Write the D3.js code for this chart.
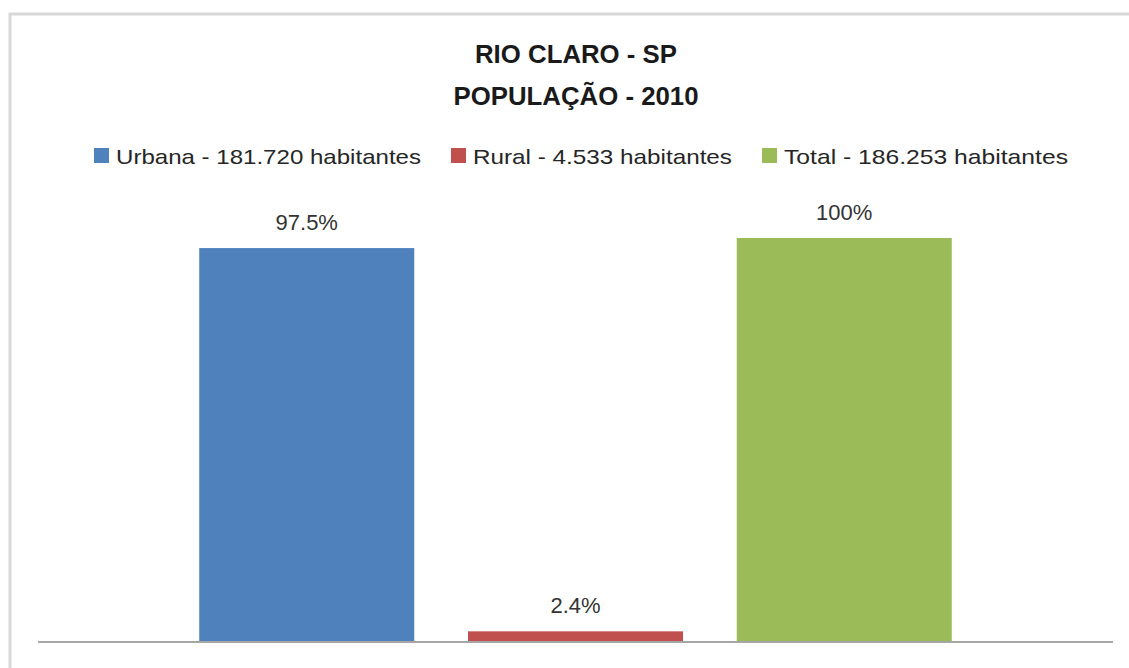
<!DOCTYPE html>
<html>
<head>
<meta charset="utf-8">
<script src="https://cdn.jsdelivr.net/npm/d3@7"></script>
<style>
  body { margin: 0; background: #fff; }
  text { font-family: "Liberation Sans Narrow", "Liberation Sans", "Open Sans", sans-serif; }
</style>
</head>
<body>
<script>
var svgW = 1129;
var svgH = 668;

// dados do grafico
var categories = ["Urbana", "Rural", "Total"];
var habitantes = ["181.720", "4.533", "186.253"];
var percent = [97.5, 2.4, 100];
var percentLabels = ["97.5%", "2.4%", "100%"];
var colors = ["#4f81bd", "#c0504d", "#9bbb59"];
var titleLines = ["RIO CLARO - SP", "POPULAÇÃO - 2010"];

var svg = d3.select("body")
  .append("svg")
  .attr("width", svgW)
  .attr("height", svgH);

// moldura
svg.append("path")
  .attr("d", "M10,668 V14 H1129")
  .attr("fill", "none")
  .attr("stroke", "#d9d9d9")
  .attr("stroke-width", 3);

var x = d3.scaleBand()
  .domain(categories)
  .range([38, 1113])
  .paddingInner(0.2)
  .paddingOuter(0.6);

var y = d3.scaleLinear()
  .domain([0, 100])
  .range([641, 238]);

// titulo
svg.selectAll("text.title")
  .data(titleLines)
  .enter()
  .append("text")
  .attr("class", "title")
  .text(function(d) { return d; })
  .attr("x", 576)
  .attr("y", function(d, i) { return 63 + i * 42; })
  .attr("text-anchor", "middle")
  .attr("font-size", "25px")
  .attr("font-weight", "bold")
  .attr("fill", "#1a1a1a")
  .attr("textLength", function(d, i) { return i == 0 ? 202 : 245; })
  .attr("lengthAdjust", "spacingAndGlyphs");

// legenda
var legendW = [305, 259, 284];
var sq = 15, gapText = 7, gapItem = 30;
var total = d3.sum(legendW) + categories.length * (sq + gapText) + (categories.length - 1) * gapItem;
var lx = 581 - total / 2;
var legendX = [];
legendW.forEach(function(w) {
  legendX.push(lx);
  lx += sq + gapText + w + gapItem;
});

var legend = svg.selectAll("g.legend")
  .data(categories)
  .enter()
  .append("g")
  .attr("class", "legend")
  .attr("transform", function(d, i) { return "translate(" + legendX[i] + ",0)"; });

legend.append("rect")
  .attr("x", 0)
  .attr("y", 148)
  .attr("width", sq)
  .attr("height", sq)
  .attr("fill", function(d, i) { return colors[i]; });

legend.append("text")
  .text(function(d, i) { return d + " - " + habitantes[i] + " habitantes"; })
  .attr("x", sq + gapText)
  .attr("y", 164)
  .attr("font-size", "21px")
  .attr("fill", "#262626")
  .attr("textLength", function(d, i) { return legendW[i]; })
  .attr("lengthAdjust", "spacingAndGlyphs");

// barras
svg.selectAll("rect.bar")
  .data(percent)
  .enter()
  .append("rect")
  .attr("class", "bar")
  .attr("x", function(d, i) { return x(categories[i]); })
  .attr("y", function(d) { return y(d); })
  .attr("width", x.bandwidth())
  .attr("height", function(d) { return y(0) - y(d); })
  .attr("fill", function(d, i) { return colors[i]; });

// eixo
svg.append("line")
  .attr("x1", 38)
  .attr("x2", 1113)
  .attr("y1", y(0) + 1)
  .attr("y2", y(0) + 1)
  .attr("stroke", "#a6a6a6")
  .attr("stroke-width", 2);

// rotulos
svg.selectAll("text.label")
  .data(percent)
  .enter()
  .append("text")
  .attr("class", "label")
  .text(function(d, i) { return percentLabels[i]; })
  .attr("x", function(d, i) { return x(categories[i]) + x.bandwidth() / 2; })
  .attr("y", function(d) { return y(d) - 18; })
  .attr("text-anchor", "middle")
  .attr("font-size", "22px")
  .attr("fill", "#333333");
</script>
</body>
</html>
